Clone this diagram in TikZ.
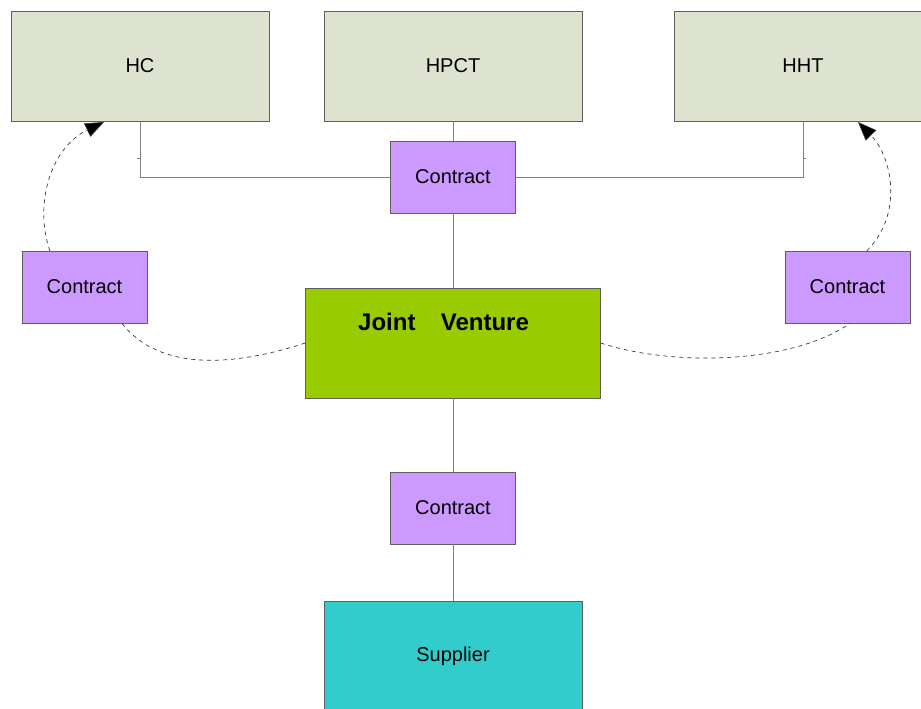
\documentclass[tikz,border=0pt]{standalone}
\usepackage{fontspec}
\setmainfont{Liberation Sans}
\usetikzlibrary{arrows.meta}
\definecolor{topfill}{HTML}{DDE3CF}
\definecolor{contractfill}{HTML}{CC99FF}
\definecolor{jvfill}{HTML}{99CC00}
\definecolor{supfill}{HTML}{33CCCC}
\definecolor{edgegray}{HTML}{5F5F5F}
\definecolor{linegray}{HTML}{808080}
\tikzset{
  topbox/.style={draw=edgegray, fill=topfill, rectangle, inner sep=0pt,
    minimum width=193.5pt, minimum height=82.5pt, font=\fontsize{15}{18}\selectfont},
  contractbox/.style={draw=edgegray, fill=contractfill, rectangle, inner sep=0pt,
    minimum width=93.75pt, minimum height=54pt, font=\fontsize{15}{18}\selectfont},
  jvbox/.style={draw=edgegray, fill=jvfill, rectangle, inner sep=0pt,
    minimum width=221.25pt, minimum height=82.5pt},
  supbox/.style={draw=edgegray, fill=supfill, rectangle, inner sep=0pt,
    minimum width=193.5pt, minimum height=82.5pt, font=\fontsize{15}{18}\selectfont},
  conn/.style={draw=linegray, line width=0.6pt},
  dashconn/.style={draw=black!80, dashed, line width=0.5pt},
  arrowconn/.style={dashconn, -{Triangle[length=14pt,width=11pt,fill=black]}},
}
\begin{document}
\begin{tikzpicture}[x=0.75pt,y=-0.75pt]
\useasboundingbox (0,0) rectangle (921,708);
\clip (0,0) rectangle (921,708);
\fill[white] (0,0) rectangle (921,708);

\node[topbox] (hc) at (140,66) {HC};
\node[topbox] (hpct) at (453,66) {HPCT};
\node[topbox] (hht) at (803,66) {HHT};

\node[contractbox] (ctop) at (453,177) {Contract};
\node[contractbox] (cleft) at (84.5,287) {Contract};
\node[contractbox] (cright) at (847.5,287) {Contract};
\node[contractbox] (cbot) at (453,508) {Contract};

\node[jvbox] (jv) at (453,343) {};
\node[font=\bfseries\fontsize{18}{21}\selectfont, inner sep=0pt] (jvtext) at (443.5,322) {Joint\hspace{19pt}Venture};

\node[supbox] (sup) at (453,656) {Supplier};

% solid connectors
\draw[conn] (hpct.south) -- (ctop.north);
\draw[conn] (ctop.south) -- (jv.north);
\draw[conn] (jv.south) -- (cbot.north);
\draw[conn] (cbot.south) -- (sup.north);
\draw[conn] (ctop.west) -| (hc.south);
\draw[conn] (ctop.east) -| (hht.south);

% small ticks
\coordinate (tl) at (137,158);
\coordinate (tr) at (806,158);
\draw[conn] (tl) -- ++(3,0);
\draw[conn] (tr) -- ++(-3,0);

% dashed connectors
\coordinate (hcin) at (104,122);
\coordinate (hhtin) at (858,122);
\draw[arrowconn] ([xshift=-26pt]cleft.north) .. controls (34,205) and (50,148) .. (hcin);
\draw[arrowconn] ([xshift=14.5pt]cright.north) .. controls (903,215) and (893,158) .. (hhtin);
\draw[dashconn] (jv.west) .. controls (235,366) and (160,372) .. ([xshift=28pt]cleft.south);
\draw[dashconn] (jv.east) .. controls (670,366) and (790,365) .. ([xshift=2pt]cright.south);
\end{tikzpicture}
\end{document}
